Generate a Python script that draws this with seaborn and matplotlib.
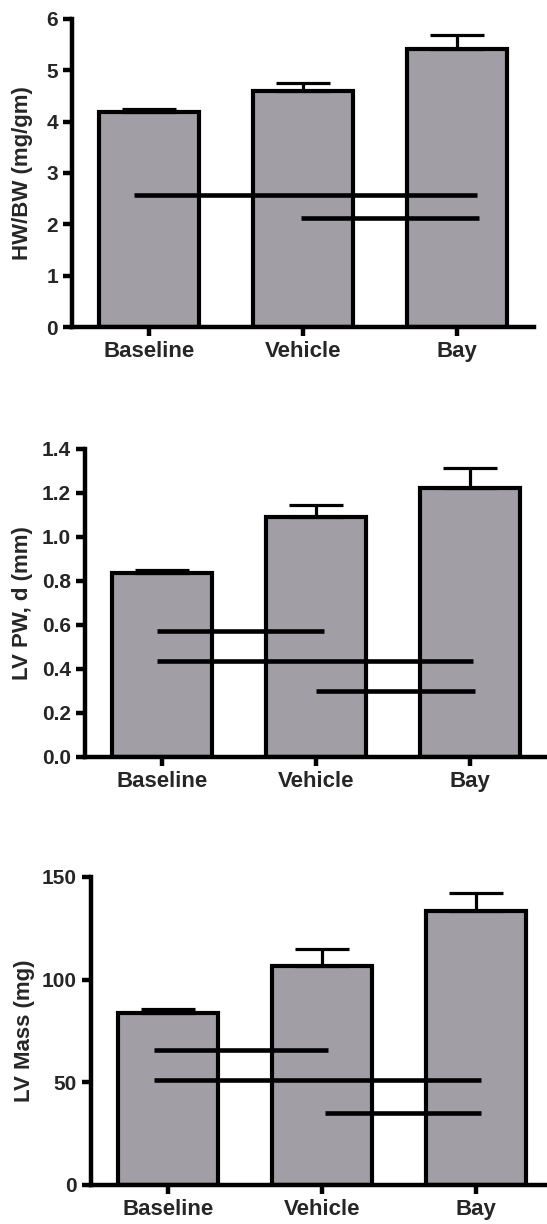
import matplotlib
matplotlib.use("Agg")
import matplotlib.pyplot as plt
import seaborn as sns
import numpy as np
import pandas as pd
from matplotlib.ticker import FormatStrFormatter

# ---------------- data ----------------
categories = ["Baseline", "Vehicle", "Bay"]

hw_bw_mean = [4.18, 4.60, 5.41]
hw_bw_sem = [0.06, 0.15, 0.28]
hw_sig_y = [2.57, 2.12]
hw_sig_from = [-0.10, 0.99]
hw_sig_to = [2.13, 2.14]

lvpw_mean = [0.838, 1.090, 1.222]
lvpw_sem = [0.012, 0.054, 0.090]
lvpw_sig_y = [0.575, 0.435, 0.300]
lvpw_sig_from = [-0.03, -0.03, 1.00]
lvpw_sig_to = [1.05, 2.02, 2.03]

lvmass_mean = [83.7, 106.8, 133.6]
lvmass_sem = [2.1, 8.3, 8.4]
lvmass_sig_y = [65.8, 50.9, 34.9]
lvmass_sig_from = [-0.09, -0.09, 1.02]
lvmass_sig_to = [1.04, 2.03, 2.03]

ylabels = ["HW/BW (mg/gm)", "LV PW, d (mm)", "LV Mass (mg)"]
yticks_list = [[0, 1, 2, 3, 4, 5, 6],
               [0.0, 0.2, 0.4, 0.6, 0.8, 1.0, 1.2, 1.4],
               [0, 50, 100, 150]]
ylims = [(0, 6), (0, 1.4), (0, 150)]

# ---------------- style ----------------
sns.set_style("ticks")
plt.rcParams["font.family"] = ["Liberation Sans", "DejaVu Sans"]
plt.rcParams["font.weight"] = "bold"

W, H = 547, 1224
fig = plt.figure(figsize=(W / 100, H / 100), dpi=100)

bar_color = "#a19fa5"
spine_lw = 3.2
# axes boxes in pixel units: (left, top, bottom)
boxes = [(72, 19, 327), (85, 449, 757), (91, 877, 1185)]
label_x = [33, 33, 35]
axes_w_px = 462

panels = [
    (hw_bw_mean, hw_bw_sem, hw_sig_y, hw_sig_from, hw_sig_to),
    (lvpw_mean, lvpw_sem, lvpw_sig_y, lvpw_sig_from, lvpw_sig_to),
    (lvmass_mean, lvmass_sem, lvmass_sig_y, lvmass_sig_from, lvmass_sig_to),
]

for i, (mean, sem, sy, sfrom, sto) in enumerate(panels):
    left, top, bottom = boxes[i]
    ax = fig.add_axes([left / W, (H - bottom) / H, axes_w_px / W, (bottom - top) / H])
    df = pd.DataFrame({"group": categories, "value": mean})
    sns.barplot(data=df, x="group", y="value", order=categories, ax=ax,
                color=bar_color, saturation=1, width=0.645, errorbar=None,
                edgecolor="black", linewidth=3.0, zorder=2)
    x = np.arange(len(categories))
    ax.errorbar(x, mean, yerr=[np.zeros(len(mean)), sem], fmt="none",
                ecolor="black", elinewidth=2.3, capsize=19.5, capthick=2.3,
                zorder=3)
    ax.hlines(sy, sfrom, sto, colors="black", linewidth=3.3, zorder=4)

    ax.set_xlim(-0.5, 2.5)
    ax.set_ylim(*ylims[i])
    ax.set_yticks(yticks_list[i])
    if i == 1:
        ax.yaxis.set_major_formatter(FormatStrFormatter("%.1f"))
    ax.set_xlabel("")
    ax.set_ylabel(ylabels[i], fontsize=16, fontweight="bold")
    ax.yaxis.set_label_coords((label_x[i] - left) / axes_w_px, 0.5)

    for s in ["top", "right"]:
        ax.spines[s].set_visible(False)
    for s in ["left", "bottom"]:
        ax.spines[s].set_linewidth(spine_lw)
        ax.spines[s].set_color("black")
        ax.spines[s].set_zorder(5)
    ax.tick_params(axis="y", length=6.5, width=spine_lw, pad=3.5, labelsize=15,
                   color="black", direction="out")
    ax.tick_params(axis="x", length=6.5, width=spine_lw, pad=3.5, labelsize=16,
                   color="black", direction="out")
    for lab in ax.get_xticklabels() + ax.get_yticklabels():
        lab.set_fontweight("bold")
    ax.set_facecolor("none")

fig.savefig("out.png", dpi=100, facecolor="white")
